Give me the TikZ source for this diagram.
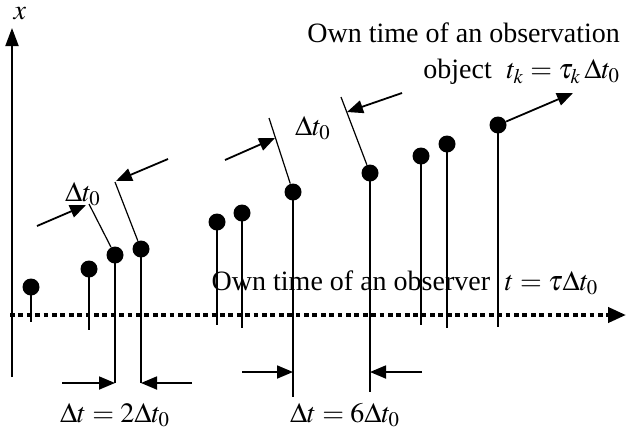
\documentclass[tikz,border=0pt]{standalone}
\usepackage{mathptmx}
\usepackage{fontspec}
\setmainfont{Liberation Serif}
\usetikzlibrary{arrows.meta}

\tikzset{
  event/.style={circle, fill, inner sep=0pt, minimum size=8.5pt},
  stem/.style={line width=1pt},
  guide/.style={line width=0.6pt},
  pointer/.style={line width=0.9pt, -{Triangle[length=8pt, width=6.5pt]}},
}

\begin{document}
\begin{tikzpicture}[x=0.5pt, y=-0.5pt, font=\fontsize{14}{16}\selectfont]
    \useasboundingbox (0,0) rectangle (630,434);

    % The axes
    \coordinate (xb) at (12,377);
    \coordinate (xt) at (12,28);
    \draw[line width=1pt, -{Triangle[length=9pt, width=6.5pt]}] (xb) -- (xt);
    \node (xlab) at (20,14) {$x$};
    \coordinate (tl) at (10,315);
    \coordinate (tr) at (626,315);
    \draw[line width=2pt, dash pattern=on 2.4pt off 1.8pt, -{Triangle[length=9pt, width=7.5pt]}] (tl) -- (tr);

    % Observer label (behind the stems)
    \node (obs) at (405,283) {Own time of an observer\; $t=\tau\Delta t_0$};

    % The events and their stems
    \foreach \i/\x/\y/\b in {1/31/287/322, 2/89/269/330, 3/115/255/383, 4/141/249/383,
                             5/217/222/325, 6/242/213/328, 7/293/192/397, 8/370/173/392,
                             9/421/156/325, 10/447/144/328, 11/498/125/327}{
        \node[event] (e\i) at (\x,\y) {};
        \coordinate (b\i) at (\x,\b);
        \draw[stem] (e\i.center) -- (b\i);
    }

    % Slanted guides
    \coordinate (g3) at (89,204);
    \coordinate (g4) at (115,182);
    \coordinate (g7) at (269,118);
    \coordinate (g8) at (341,97);
    \draw[guide] (g3) -- (e3);
    \draw[guide] (g4) -- (e4);
    \draw[guide] (g7) -- (e7);
    \draw[guide] (g8) -- (e8);

    % Pointers onto the guides
    \coordinate (p1) at (37,226);
    \coordinate (p1e) at (86,205);
    \coordinate (p2) at (168,159);
    \coordinate (p2e) at (116,181);
    \coordinate (p3) at (225,160);
    \coordinate (p3e) at (275,138);
    \coordinate (p4) at (402,93);
    \coordinate (p4e) at (347,112);
    \coordinate (p5e) at (573,93);
    \draw[pointer] (p1) -- (p1e);
    \draw[pointer] (p2) -- (p2e);
    \draw[pointer] (p3) -- (p3e);
    \draw[pointer] (p4) -- (p4e);
    \draw[pointer] (e11) -- (p5e);

    % Pointers onto the stems
    \coordinate (q1) at (62,383);
    \coordinate (q2) at (192,383);
    \coordinate (q3) at (242,372);
    \coordinate (q4) at (422,372);
    \draw[pointer] (q1) -- (q1 -| e3);
    \draw[pointer] (q2) -- (q2 -| e4);
    \draw[pointer] (q3) -- (q3 -| e7);
    \draw[pointer] (q4) -- (q4 -| e8);

    % Labels
    \node (dl) at (83,194) {$\Delta t_0$};
    \node (dr) at (313,128) {$\Delta t_0$};
    \node[anchor=east] (obj1) at (627,33) {Own time of an observation};
    \node[anchor=east] (obj2) at (627,72) {object\; $t_k=\tau_k\,\Delta t_0$};
    \node (d2) at (115,415) {$\Delta t=2\Delta t_0$};
    \node (d6) at (345,415) {$\Delta t=6\Delta t_0$};
\end{tikzpicture}
\end{document}
